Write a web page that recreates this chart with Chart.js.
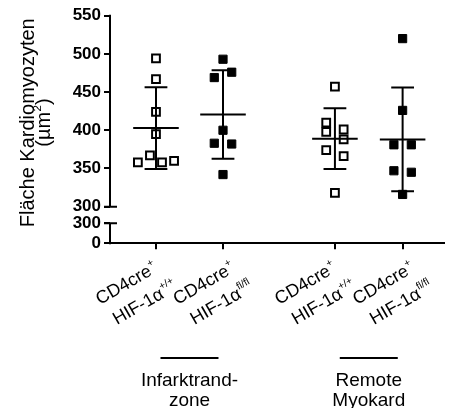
<!DOCTYPE html>
<html lang="de">
<head>
<meta charset="UTF-8">
<title>Fläche Kardiomyozyten</title>
<script src="https://cdn.jsdelivr.net/npm/chart.js@4.4.0/dist/chart.umd.min.js"></script>
<style>
  html, body { margin: 0; padding: 0; background: #fff; }
  canvas { display: block; }
</style>
</head>
<body>
<canvas id="myChart" width="451" height="408"></canvas>
<script>
// Fläche der Kardiomyozyten in µm², ein Wert pro Tier
const wtInfarkt = [494, 467, 424, 395, 358, 367, 358, 360];
const koInfarkt = [493, 469, 476, 400, 383, 382, 342];
const wtRemote = [457, 410, 401, 398, 388, 374, 366, 318];
const koRemote = [520, 426, 381, 381, 347, 345, 316];

// Beschriftung: [Text, Hochgestellt]
const cre = ["CD4cre", "+"];
const hifWt = ["HIF-1α", "+/+"];
const hifKo = ["HIF-1α", "fl/fl"];
const categories = [[cre, hifWt], [cre, hifKo], [cre, hifWt], [cre, hifKo]];
const regions = [["Infarktrand-", "zone"], ["Remote", "Myokard"]];
const yTitle = [["Fläche Kardiomyozyten", ""], ["(µm", "2", ")"]];

const upperTicks = [300, 350, 400, 450, 500, 550];
const lowerTicks = [0, 300];

// layout of the broken y axis: the lower part (0-300) is squeezed below the gap
const LOW_ZERO = 252;
const LOW_TOP = 278.3;
const groupX = [1, 2, 3.67, 4.68];
const labelNudge = [0, 10.5, 0, 10.5];
const FONT = "'Liberation Sans', Arial, sans-serif";

const groups = [
  { values: wtInfarkt, open: true },
  { values: koInfarkt, open: false },
  { values: wtRemote, open: true },
  { values: koRemote, open: false }
];

// spread points with nearly equal values side by side
function swarm(values, center) {
  const order = values.map((v, i) => i).sort((a, b) => values[b] - values[a]);
  const rows = [];
  order.forEach(i => {
    const row = rows[rows.length - 1];
    if (row && values[row[0]] - values[i] < 11) row.push(i);
    else rows.push([i]);
  });
  const pts = [];
  rows.forEach(row => {
    row.sort((a, b) => a - b);
    const n = row.length;
    const half = Math.min(0.13 * (n - 1), 0.27);
    row.forEach((i, k) => {
      const dx = n === 1 ? 0 : -half + (2 * half * k) / (n - 1);
      pts.push({ x: center + dx, y: values[i] });
    });
  });
  return pts;
}

function meanSd(values) {
  const m = values.reduce((a, b) => a + b, 0) / values.length;
  const v = values.reduce((a, b) => a + (b - m) * (b - m), 0) / (values.length - 1);
  return [m, Math.sqrt(v)];
}

// mean line plus SD whiskers as one broken line
function errorBars(values, c) {
  const [m, sd] = meanSd(values);
  const gap = { x: c, y: null };
  return [
    { x: c - 0.34, y: m }, { x: c + 0.34, y: m }, gap,
    { x: c - 0.17, y: m + sd }, { x: c + 0.17, y: m + sd }, gap,
    { x: c, y: m + sd }, { x: c, y: m - sd }, gap,
    { x: c - 0.17, y: m - sd }, { x: c + 0.17, y: m - sd }
  ];
}

const datasets = [];
groups.forEach((g, i) => {
  datasets.push({
    type: "line",
    data: errorBars(g.values, groupX[i]),
    borderColor: "#000",
    borderWidth: 2,
    pointRadius: 0,
    spanGaps: false,
    order: 1
  });
  datasets.push({
    data: swarm(g.values, groupX[i]),
    pointStyle: "rect",
    pointRadius: g.open ? 5.5 : 5.8,
    borderWidth: g.open ? 2 : 1,
    borderColor: "#000",
    backgroundColor: g.open ? "rgba(0,0,0,0)" : "#000",
    order: 2
  });
});

// text with a small raised part: [text, sup, tail]
function measureSup(ctx, parts, size) {
  ctx.font = size + "px " + FONT;
  let w = ctx.measureText(parts[0]).width + ctx.measureText(parts[2] || "").width;
  ctx.font = (size * 0.58) + "px " + FONT;
  return w + ctx.measureText(parts[1]).width + 0.5;
}

function drawSup(ctx, parts, x, y, size) {
  ctx.textAlign = "left";
  ctx.font = size + "px " + FONT;
  ctx.fillText(parts[0], x, y);
  x += ctx.measureText(parts[0]).width + 0.5;
  ctx.font = (size * 0.58) + "px " + FONT;
  ctx.fillText(parts[1], x, y - size * 0.45);
  x += ctx.measureText(parts[1]).width;
  if (parts[2]) {
    ctx.font = size + "px " + FONT;
    ctx.fillText(parts[2], x, y);
  }
}

const decorations = {
  id: "decorations",
  afterDraw(chart) {
    const { ctx, chartArea, scales } = chart;
    const y = scales.y, x = scales.x;
    const ax = chartArea.left;
    ctx.save();
    ctx.strokeStyle = "#000";
    ctx.fillStyle = "#000";
    ctx.lineWidth = 2;

    // broken y axis with caps at the break
    const top = y.getPixelForValue(550) - 1;
    const brk = y.getPixelForValue(300);
    const low = y.getPixelForValue(LOW_TOP);
    ctx.beginPath();
    ctx.moveTo(ax, top); ctx.lineTo(ax, brk);
    ctx.moveTo(ax - 6, brk); ctx.lineTo(ax + 7, brk);
    ctx.moveTo(ax - 6, low); ctx.lineTo(ax + 7, low);
    ctx.moveTo(ax, low); ctx.lineTo(ax, chartArea.bottom + 1);
    ctx.stroke();
    ctx.textBaseline = "alphabetic";

    // y axis title, two rotated lines
    ctx.save();
    ctx.translate(0, 122.5);
    ctx.rotate(-Math.PI / 2);
    [[0, 34], [1, 50]].forEach(([k, base]) => {
      const w = measureSup(ctx, yTitle[k], 20);
      drawSup(ctx, yTitle[k], -w / 2, base, 20);
    });
    ctx.restore();

    // rotated genotype labels
    const ang = -30 * Math.PI / 180;
    categories.forEach((cat, i) => {
      const tx = x.getPixelForValue(groupX[i]) + labelNudge[i];
      ctx.save();
      ctx.translate(tx, 250);
      ctx.rotate(ang);
      drawSup(ctx, cat[0], -76, 19.6, 18);
      drawSup(ctx, cat[1], -71.3, 45.4, 18);
      ctx.restore();
    });

    // region brackets
    ctx.font = "19px " + FONT;
    ctx.textAlign = "center";
    regions.forEach((r, k) => {
      const cx = (x.getPixelForValue(groupX[2 * k]) + x.getPixelForValue(groupX[2 * k + 1])) / 2;
      ctx.beginPath();
      ctx.moveTo(cx - 29, 358); ctx.lineTo(cx + 29, 358);
      ctx.stroke();
      ctx.fillText(r[0], cx, 386);
      ctx.fillText(r[1], cx, 406);
    });
    ctx.restore();
  }
};

const yTickValues = [LOW_ZERO, LOW_TOP].concat(upperTicks);
const yTickLabels = lowerTicks.concat(upperTicks).map(String);

new Chart(document.getElementById("myChart"), {
  type: "scatter",
  data: { datasets: datasets },
  options: {
    responsive: false,
    animation: false,
    layout: { padding: { top: 15.7, right: 0, left: 0, bottom: 0 } },
    plugins: { legend: { display: false }, tooltip: { enabled: false } },
    scales: {
      x: {
        type: "linear",
        min: 0.314,
        max: 5.29,
        afterBuildTicks: s => { s.ticks = groupX.map(v => ({ value: v })); },
        afterFit: s => { s.height = 408 - 243.3; },
        ticks: { display: false },
        grid: { drawOnChartArea: false, drawTicks: true, tickLength: 6, color: "#000", lineWidth: 2 },
        border: { display: true, color: "#000", width: 2 }
      },
      y: {
        type: "linear",
        min: LOW_ZERO,
        max: 550,
        afterBuildTicks: s => { s.ticks = yTickValues.map(v => ({ value: v })); },
        afterFit: s => { s.width = 110; },
        ticks: {
          callback: (v, i) => yTickLabels[i],
          color: "#000",
          padding: 3,
          font: { family: FONT, size: 17, weight: "bold" }
        },
        grid: { drawOnChartArea: false, drawTicks: true, tickLength: 6, color: "#000", lineWidth: 2 },
        border: { display: false }
      }
    }
  },
  plugins: [decorations]
});
</script>
</body>
</html>
